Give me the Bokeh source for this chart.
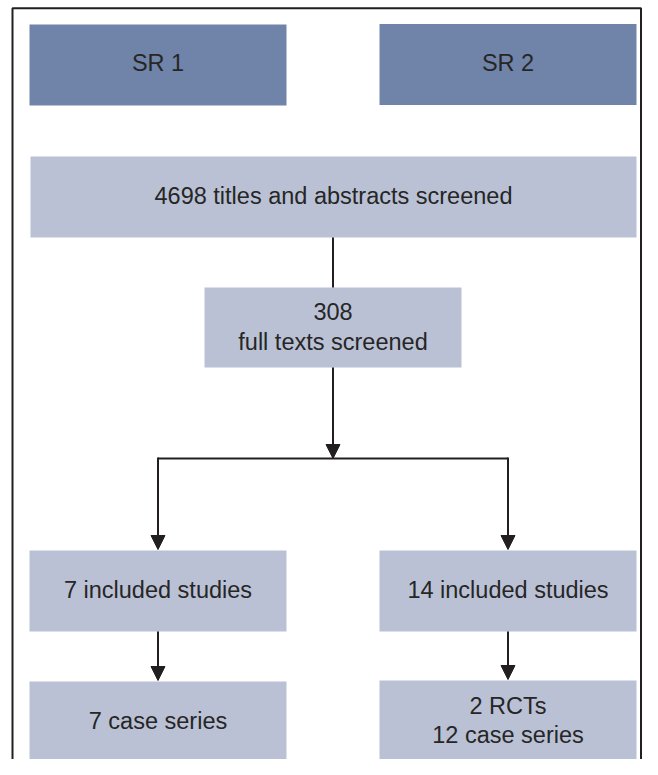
from bokeh.plotting import figure
from bokeh.models import Range1d, Arrow, NormalHead, ColumnDataSource
from bokeh.core.properties import value
from bokeh.embed import file_html
from bokeh.resources import INLINE

# ---- data ----
review_names = ["SR 1", "SR 2"]
stage_counts = [4698, 308]
stage_labels = ["titles and abstracts screened", "full texts screened"]
included_counts = [7, 14]
rct_counts = [0, 2]
case_series_counts = [7, 12]

# ---- layout (pixel coordinates) ----
DARK = "#231f20"
SR_COLOR = "#7083a8"
BOX_COLOR = "#bac1d5"
FONT = value("Liberation Sans")
FS = "23.5px"
LW = 2

col_x = [157.5, 507.5]          # centres of the two columns
col_half = 128.5
mid_x = 332.5

p = figure(width=642, height=759, x_range=Range1d(0, 642), y_range=Range1d(759, 0),
           output_backend="svg", toolbar_location=None, min_border=0)
p.axis.visible = False
p.grid.visible = False
p.outline_line_color = None
p.background_fill_color = "white"
p.border_fill_color = "white"

# outer frame (open at bottom)
p.line([12, 12, 640.5, 640.5], [790, 7.8, 7.8, 790], line_color=DARK, line_width=LW)

# SR header boxes
p.quad(left=[c - col_half for c in col_x], right=[c + col_half for c in col_x],
       top=[24, 23.5], bottom=[105, 104.5], fill_color=SR_COLOR, line_color=None)

# screening boxes
p.quad(left=[30, 204], right=[636, 461], top=[156, 287], bottom=[237, 367],
       fill_color=BOX_COLOR, line_color=None)

# included + design boxes
lefts = [c - col_half for c in col_x]
rights = [c + col_half for c in col_x]
p.quad(left=lefts + lefts, right=rights + rights,
       top=[550, 550, 681, 680], bottom=[631, 631, 762, 761],
       fill_color=BOX_COLOR, line_color=None)

# connectors
p.line([mid_x, mid_x], [237, 287], line_color=DARK, line_width=LW)
p.line([col_x[0], col_x[1]], [458, 458], line_color=DARK, line_width=LW)

def arrow(x, y0, y1):
    p.add_layout(Arrow(end=NormalHead(size=14, fill_color=DARK, line_color=DARK, line_width=1),
                       x_start=x, y_start=y0, x_end=x, y_end=y1,
                       line_color=DARK, line_width=LW))

arrow(mid_x, 367, 458)
arrow(col_x[0], 457, 549)
arrow(col_x[1], 457, 549)
arrow(col_x[0], 631, 680)
arrow(col_x[1], 631, 679)

# ---- texts ----
tx, ty, tt = [], [], []
for i, name in enumerate(review_names):
    tx.append(col_x[i]); ty.append(62.5); tt.append(name)
tx.append(333); ty.append(195); tt.append(f"{stage_counts[0]} {stage_labels[0]}")
tx.append(mid_x); ty.append(311); tt.append(f"{stage_counts[1]}")
tx.append(mid_x); ty.append(341); tt.append(stage_labels[1])
for i in range(2):
    tx.append(col_x[i]); ty.append(589.5); tt.append(f"{included_counts[i]} included studies")
    lines = []
    if rct_counts[i]:
        lines.append(f"{rct_counts[i]} RCTs")
    lines.append(f"{case_series_counts[i]} case series")
    if len(lines) == 1:
        tx.append(col_x[i]); ty.append(720); tt.append(lines[0])
    else:
        tx.append(col_x[i]); ty.append(705); tt.append(lines[0])
        tx.append(col_x[i]); ty.append(734); tt.append(lines[1])

src = ColumnDataSource(dict(x=tx, y=ty, t=tt))
p.text(x="x", y="y", text="t", source=src, text_font=FONT, text_font_size=FS,
       text_color="#262626", text_align="center", text_baseline="middle")

open("out.html", "w").write(file_html(p, INLINE))
